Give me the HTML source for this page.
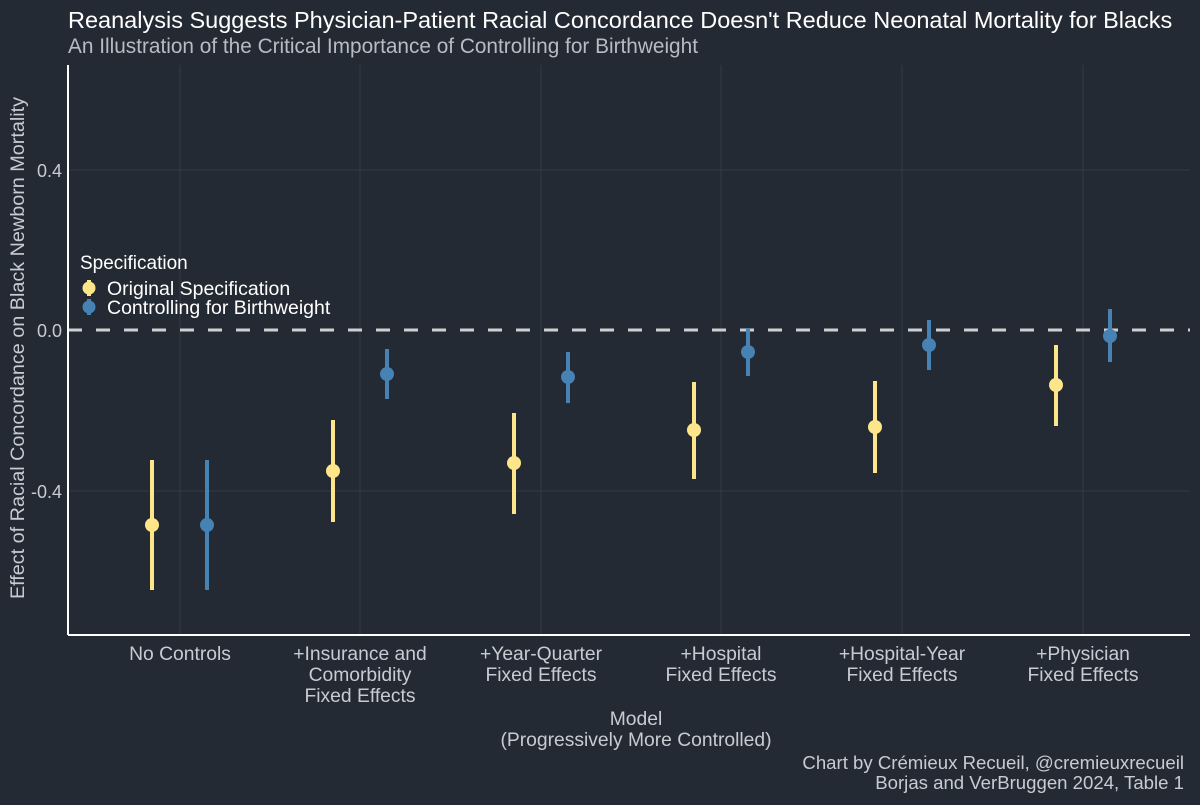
<!DOCTYPE html>
<html><head><meta charset="utf-8"><style>
html,body{margin:0;padding:0;background:#232a33;}
</style></head><body>
<svg width="1200" height="800" xmlns="http://www.w3.org/2000/svg" font-family="Liberation Sans, Arial, sans-serif">
<rect width="1200" height="800" fill="#232a33"/>
<text x="68" y="28" font-size="23.5" fill="#ffffff">Reanalysis Suggests Physician-Patient Racial Concordance Doesn't Reduce Neonatal Mortality for Blacks</text>
<text x="68" y="53" font-size="20.8" fill="#b8bcc2">An Illustration of the Critical Importance of Controlling for Birthweight</text>
<g stroke="#323a44" stroke-width="1">
<line x1="68" x2="1190" y1="170" y2="170"/>
<line x1="68" x2="1190" y1="491" y2="491"/>
<line x1="180" x2="180" y1="65" y2="635"/>
<line x1="360" x2="360" y1="65" y2="635"/>
<line x1="541" x2="541" y1="65" y2="635"/>
<line x1="721" x2="721" y1="65" y2="635"/>
<line x1="902" x2="902" y1="65" y2="635"/>
<line x1="1083" x2="1083" y1="65" y2="635"/>
</g>
<line x1="68" x2="1190" y1="330" y2="330" stroke="#cfcfcf" stroke-width="3" stroke-dasharray="14,14"/>
<line x1="68" x2="68" y1="65" y2="635" stroke="#ffffff" stroke-width="2"/>
<line x1="68" x2="1190" y1="635" y2="635" stroke="#ffffff" stroke-width="2"/>
<g font-size="18" fill="#c8ccd2" text-anchor="end">
<text x="62" y="177">0.4</text>
<text x="62" y="337">0.0</text>
<text x="62" y="498">-0.4</text>
</g>
<text transform="translate(24,348) rotate(-90)" font-size="19.8" fill="#c8ccd2" text-anchor="middle">Effect of Racial Concordance on Black Newborn Mortality</text>
<g stroke-width="4">
<line x1="152" x2="152" y1="460" y2="590" stroke="#fde68a"/>
<line x1="207" x2="207" y1="460" y2="590" stroke="#4682b4"/>
<line x1="333" x2="333" y1="420" y2="522" stroke="#fde68a"/>
<line x1="387" x2="387" y1="349" y2="399" stroke="#4682b4"/>
<line x1="514" x2="514" y1="413" y2="514" stroke="#fde68a"/>
<line x1="568" x2="568" y1="352" y2="403" stroke="#4682b4"/>
<line x1="694" x2="694" y1="382" y2="479" stroke="#fde68a"/>
<line x1="748" x2="748" y1="328" y2="376" stroke="#4682b4"/>
<line x1="875" x2="875" y1="381" y2="473" stroke="#fde68a"/>
<line x1="929" x2="929" y1="320" y2="370" stroke="#4682b4"/>
<line x1="1056" x2="1056" y1="345" y2="426" stroke="#fde68a"/>
<line x1="1110" x2="1110" y1="309" y2="362" stroke="#4682b4"/>
</g>
<g>
<circle cx="152" cy="525" r="7" fill="#fde68a"/>
<circle cx="207" cy="525" r="7" fill="#4682b4"/>
<circle cx="333" cy="471" r="7" fill="#fde68a"/>
<circle cx="387" cy="374" r="7" fill="#4682b4"/>
<circle cx="514" cy="463" r="7" fill="#fde68a"/>
<circle cx="568" cy="377" r="7" fill="#4682b4"/>
<circle cx="694" cy="430" r="7" fill="#fde68a"/>
<circle cx="748" cy="352" r="7" fill="#4682b4"/>
<circle cx="875" cy="427" r="7" fill="#fde68a"/>
<circle cx="929" cy="345" r="7" fill="#4682b4"/>
<circle cx="1056" cy="385" r="7" fill="#fde68a"/>
<circle cx="1110" cy="336" r="7" fill="#4682b4"/>
</g>
<text x="80" y="269" font-size="19" fill="#ffffff">Specification</text>
<line x1="89" x2="89" y1="280" y2="296" stroke="#fde68a" stroke-width="4"/>
<circle cx="89" cy="288" r="6.5" fill="#fde68a"/>
<line x1="89" x2="89" y1="299" y2="315" stroke="#4682b4" stroke-width="4"/>
<circle cx="89" cy="307" r="6.5" fill="#4682b4"/>
<text x="107" y="295" font-size="19.5" fill="#ffffff">Original Specification</text>
<text x="107" y="314" font-size="19.5" fill="#ffffff">Controlling for Birthweight</text>
<g font-size="19.3" fill="#c8ccd2" text-anchor="middle">
<text x="180" y="660">No Controls</text>
<text x="360" y="660">+Insurance and</text>
<text x="360" y="681">Comorbidity</text>
<text x="360" y="702">Fixed Effects</text>
<text x="541" y="660">+Year-Quarter</text>
<text x="541" y="681">Fixed Effects</text>
<text x="721" y="660">+Hospital</text>
<text x="721" y="681">Fixed Effects</text>
<text x="902" y="660">+Hospital-Year</text>
<text x="902" y="681">Fixed Effects</text>
<text x="1083" y="660">+Physician</text>
<text x="1083" y="681">Fixed Effects</text>
<text x="636" y="725">Model</text>
<text x="636" y="746">(Progressively More Controlled)</text>
</g>
<g font-size="18.6" fill="#c8ccd2" text-anchor="end">
<text x="1184" y="769">Chart by Crémieux Recueil, @cremieuxrecueil</text>
<text x="1184" y="789">Borjas and VerBruggen 2024, Table 1</text>
</g>
</svg>
</body></html>
